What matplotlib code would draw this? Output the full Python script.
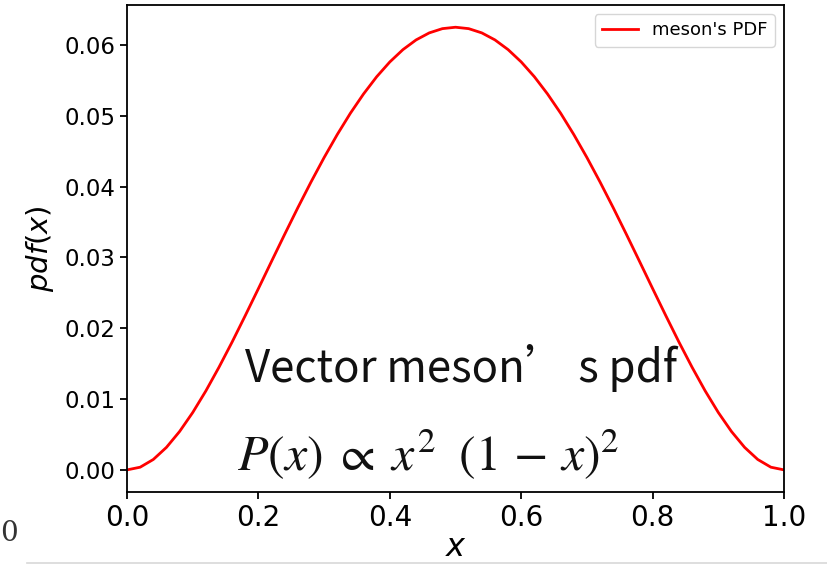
import matplotlib
matplotlib.use("Agg")
import matplotlib.pyplot as plt

# values
x_vals = [0.00, 0.02, 0.04, 0.06, 0.08, 0.10, 0.12, 0.14, 0.16, 0.18,
          0.20, 0.22, 0.24, 0.26, 0.28, 0.30, 0.32, 0.34, 0.36, 0.38,
          0.40, 0.42, 0.44, 0.46, 0.48, 0.50, 0.52, 0.54, 0.56, 0.58,
          0.60, 0.62, 0.64, 0.66, 0.68, 0.70, 0.72, 0.74, 0.76, 0.78,
          0.80, 0.82, 0.84, 0.86, 0.88, 0.90, 0.92, 0.94, 0.96, 0.98, 1.00]
pdf_vals = [0.0, 0.00038, 0.00147, 0.00318, 0.00542, 0.00810, 0.01115, 0.01450, 0.01806, 0.02179,
            0.02560, 0.02945, 0.03327, 0.03702, 0.04064, 0.04410, 0.04735, 0.05036, 0.05308, 0.05551,
            0.05760, 0.05934, 0.06071, 0.06170, 0.06230, 0.06250, 0.06230, 0.06170, 0.06071, 0.05934,
            0.05760, 0.05551, 0.05308, 0.05036, 0.04735, 0.04410, 0.04064, 0.03702, 0.03327, 0.02945,
            0.02560, 0.02179, 0.01806, 0.01450, 0.01115, 0.00810, 0.00542, 0.00318, 0.00147, 0.00038, 0.0]
x_ticks = [0.0, 0.2, 0.4, 0.6, 0.8, 1.0]
y_ticks = [0.00, 0.01, 0.02, 0.03, 0.04, 0.05, 0.06]

fig = plt.figure(figsize=(8.28, 5.66), dpi=100)
ax = fig.add_axes([0.1534, 0.1307, 0.7935, 0.8603])

ax.plot(x_vals, pdf_vals, color="red", linewidth=2.0, label="meson's PDF")
ax.set_xlim(0, 1)
ax.set_ylim(-0.003125, 0.065625)
ax.set_xticks(x_ticks)
ax.set_xticklabels([f"{t:.1f}" for t in x_ticks], fontsize=20)
ax.set_yticks(y_ticks)
ax.set_yticklabels([f"{t:.2f}" for t in y_ticks], fontsize=16.5)
for s in ax.spines.values():
    s.set_linewidth(1.3)
ax.tick_params(width=1.3, length=5)

ax.set_ylabel("$pdf(x)$", fontsize=21, labelpad=6)
ax.set_xlabel("$x$", fontsize=23, labelpad=0)

ax.legend(loc="upper right", fontsize=13)

# overlaid annotation text
fig.text(245 / 828, 1 - 382 / 566, "Vector meson’ s pdf",
         fontsize=31.5, family=["Noto Sans CJK SC", "DejaVu Sans"],
         weight="light", color="#111111")
fig.text(237 / 828, 1 - 471 / 566, r"$P(x)\;\propto\;x^2\ \;(1\,-\,x)^2$",
         fontsize=36, math_fontfamily="stix", color="#111111")

# screenshot leftovers
fig.text(0.5 / 828, 1 - 541 / 566, "0", fontsize=20, family="DejaVu Serif", color="#333333")
fig.add_artist(plt.Line2D([27 / 828, 1.0], [1 - 563 / 566] * 2, color="#d8d8d8", linewidth=1.2))

fig.savefig("out.png", dpi=100)
